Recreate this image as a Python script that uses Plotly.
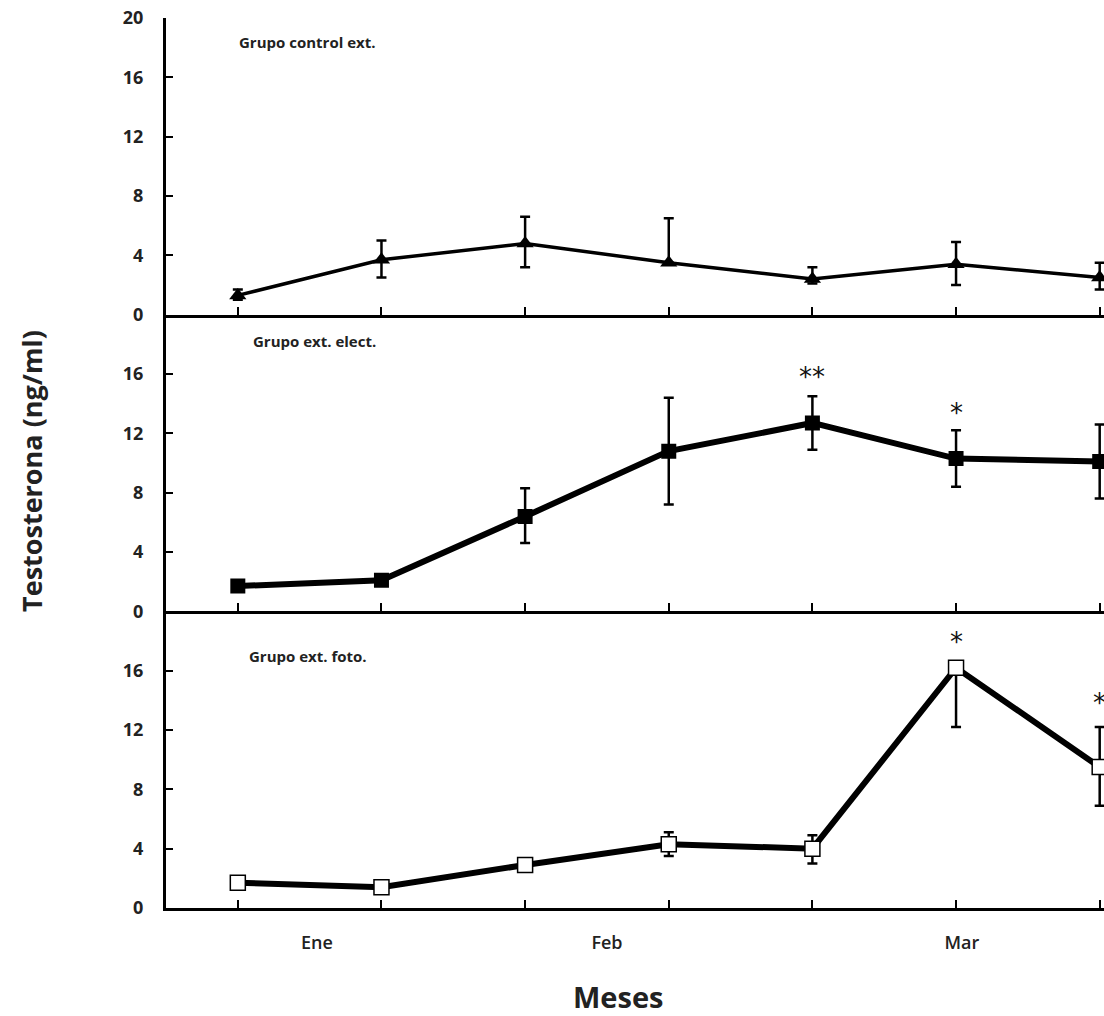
import plotly.graph_objects as go
from plotly.subplots import make_subplots

# ---- data ----
x_idx = [1, 2, 3, 4, 5, 6, 7]
month_labels = ["Ene", "Feb", "Mar"]
month_pos = [1.55, 3.57, 6.04]

group_names = ["Grupo control ext.", "Grupo ext. elect.", "Grupo ext. foto."]

control_mean = [1.3, 3.7, 4.8, 3.5, 2.4, 3.4, 2.5]
control_plus = [0.4, 1.3, 1.8, 3.0, 0.8, 1.5, 1.0]
control_minus = [0.3, 1.2, 1.6, 0.0, 0.3, 1.4, 0.8]

elect_mean = [1.7, 2.1, 6.4, 10.8, 12.7, 10.3, 10.1]
elect_plus = [0.2, 0.3, 1.9, 3.6, 1.8, 1.9, 2.5]
elect_minus = [0.2, 0.3, 1.8, 3.6, 1.8, 1.9, 2.5]

foto_mean = [1.7, 1.4, 2.9, 4.3, 4.0, 16.2, 9.5]
foto_plus = [0.1, 0.2, 0.3, 0.8, 0.9, 0.0, 2.7]
foto_minus = [0.1, 0.2, 0.3, 0.8, 1.0, 4.0, 2.6]

sig_panel = [2, 2, 3, 3]
sig_x = [5, 6, 6, 7]
sig_y = [15.8, 13.4, 17.9, 13.8]
sig_text = ["**", "*", "*", "*"]

label_x = [1.48, 1.535, 1.49]
label_y = [18.4, 18.2, 17.0]

y_tickvals = [[0, 4, 8, 12, 16, 20], [0, 4, 8, 12, 16], [0, 4, 8, 12, 16]]

# ---- figure ----
fig = make_subplots(rows=3, cols=1, shared_xaxes=True, vertical_spacing=0)

series = [
    (control_mean, control_plus, control_minus,
     dict(symbol="triangle-up", size=15, color="black"), 3.5),
    (elect_mean, elect_plus, elect_minus,
     dict(symbol="square", size=15, color="black"), 6),
    (foto_mean, foto_plus, foto_minus,
     dict(symbol="square", size=15, color="white", line=dict(color="black", width=1.5)), 6),
]

for i, (m, p, mi, mk, lw) in enumerate(series):
    fig.add_trace(
        go.Scatter(
            x=x_idx, y=m, mode="lines+markers",
            line=dict(color="black", width=lw),
            marker=mk,
            error_y=dict(type="data", symmetric=False, array=p, arrayminus=mi,
                         color="black", thickness=2.5, width=5),
            showlegend=False,
        ),
        row=i + 1, col=1,
    )

tickfont = dict(family="Open Sans", size=18, color="#222", weight="bold")

for r in range(1, 4):
    fig.update_yaxes(
        range=[0, 20], tickvals=y_tickvals[r - 1], ticks="inside", ticklen=7,
        tickwidth=2, tickcolor="black", showline=True, linecolor="black",
        linewidth=3, showgrid=False, zeroline=False, tickfont=tickfont,
        ticklabelstandoff=16, row=r, col=1,
    )
    fig.update_xaxes(
        range=[0.5, 7.03], tickvals=month_pos, ticktext=month_labels, ticks="",
        showticklabels=(r == 3), showline=True, linecolor="black", linewidth=3,
        showgrid=False, zeroline=False,
        tickfont=dict(family="Open Sans", size=18, color="#222", weight=600),
        ticklabelstandoff=16,
        minor=dict(tick0=1, dtick=1, ticks="inside", ticklen=8, tickwidth=2,
                   tickcolor="black", showgrid=False),
        row=r, col=1,
    )

annotations = []
for i in range(3):
    annotations.append(dict(
        x=label_x[i], y=label_y[i], xref=f"x{'' if i == 0 else i + 1}",
        yref=f"y{'' if i == 0 else i + 1}", text=group_names[i], showarrow=False,
        font=dict(family="Open Sans", size=15, color="#222", weight="bold"),
    ))
for pnl, sx, sy, st in zip(sig_panel, sig_x, sig_y, sig_text):
    annotations.append(dict(
        x=sx, y=sy, xref=f"x{pnl}", yref=f"y{pnl}", text=st, showarrow=False,
        font=dict(family="DejaVu Sans", size=26, color="#111"),
    ))
annotations.append(dict(
    x=-0.144, y=0.491, xref="paper", yref="paper", text="Testosterona (ng/ml)",
    textangle=-90, showarrow=False, xanchor="center", yanchor="middle",
    font=dict(family="Open Sans", size=27, color="#222", weight="bold"),
))
annotations.append(dict(
    x=0.4819, y=-0.099, xref="paper", yref="paper", text="Meses",
    showarrow=False, xanchor="center", yanchor="middle",
    font=dict(family="Open Sans", size=29, color="#222", weight="bold"),
))

fig.update_layout(
    width=1104, height=1016,
    margin=dict(l=166, r=0, t=18, b=108),
    plot_bgcolor="white", paper_bgcolor="white",
    annotations=annotations,
)

fig.write_html(
    "out.html",
    config={"displayModeBar": False},
    post_script="document.body.style.margin='0px';document.body.style.overflow='hidden';",
)
